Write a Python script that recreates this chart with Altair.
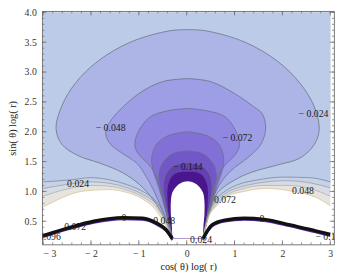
import altair as alt
import pandas as pd

SERIF = "Liberation Serif"

# ---------------- axis ranges / ticks ----------------
X_DOMAIN = [-3.02, 3.08]
Y_DOMAIN = [0.11, 4.02]
FILL_TOP = 4.0

X_MAJOR = [-3, -2, -1, 0, 1, 2, 3]
X_MINOR = [round(-3 + 0.2 * k, 1) for k in range(31)]
Y_MAJOR = [0.5, 1.0, 1.5, 2.0, 2.5, 3.0, 3.5, 4.0]
Y_MINOR = [round(0.2 + 0.1 * k, 1) for k in range(39)]

# ---------------- contour curves ----------------
C024_L = [(0.02, 3.71), (-0.37, 3.69), (-1.18, 3.50), (-1.86, 3.18), (-2.33, 2.81), (-2.61, 2.43),
          (-2.73, 2.05), (-2.61, 1.79), (-2.27, 1.60), (-1.80, 1.47), (-1.33, 1.31), (-0.98, 1.11),
          (-0.71, 0.87), (-0.43, 0.50), (-0.30, 0.21)]
C024_R = [(0.41, 3.69), (1.22, 3.50), (1.90, 3.18), (2.37, 2.81), (2.66, 2.43), (2.77, 2.05),
          (2.67, 1.79), (2.37, 1.56), (1.88, 1.44), (1.35, 1.32), (1.00, 1.19), (0.65, 0.98),
          (0.45, 0.60), (0.34, 0.21)]
C048_L = [(0.02, 2.89), (-0.50, 2.84), (-0.98, 2.65), (-1.45, 2.32), (-1.65, 2.10), (-1.69, 1.95),
          (-1.59, 1.79), (-1.33, 1.63), (-1.04, 1.47), (-0.84, 1.24), (-0.67, 0.98), (-0.47, 0.60),
          (-0.30, 0.21)]
C048_R = [(0.50, 2.84), (1.00, 2.64), (1.40, 2.42), (1.58, 2.30), (1.65, 2.05), (1.55, 1.79),
          (1.27, 1.56), (1.00, 1.40), (0.80, 1.24), (0.63, 1.03), (0.49, 0.71), (0.34, 0.21)]
C072_L = [(0.02, 2.39), (-0.40, 2.35), (-0.78, 2.24), (-1.04, 1.95), (-1.08, 1.75), (-0.98, 1.60),
          (-0.78, 1.44), (-0.63, 1.24), (-0.53, 0.98), (-0.43, 0.66), (-0.30, 0.21)]
C072_R = [(0.43, 2.35), (0.82, 2.24), (1.06, 1.95), (1.10, 1.75), (1.00, 1.60), (0.80, 1.44),
          (0.65, 1.24), (0.55, 0.98), (0.45, 0.66), (0.34, 0.21)]
C096_L = [(0.02, 2.00), (-0.40, 1.93), (-0.63, 1.79), (-0.73, 1.58), (-0.71, 1.38), (-0.62, 1.15),
          (-0.52, 0.90), (-0.41, 0.58), (-0.30, 0.21)]
C096_R = [(0.44, 1.93), (0.67, 1.79), (0.77, 1.58), (0.75, 1.38), (0.66, 1.15), (0.56, 0.90),
          (0.45, 0.58), (0.34, 0.21)]
C120_L = [(0.02, 1.68), (-0.30, 1.63), (-0.50, 1.48), (-0.58, 1.30), (-0.56, 1.10), (-0.49, 0.85),
          (-0.39, 0.55), (-0.30, 0.21)]
C120_R = [(0.34, 1.63), (0.54, 1.48), (0.62, 1.30), (0.60, 1.10), (0.53, 0.85), (0.43, 0.55),
          (0.34, 0.21)]
C144_L = [(0.02, 1.48), (-0.25, 1.44), (-0.43, 1.30), (-0.49, 1.10), (-0.46, 0.85), (-0.38, 0.55),
          (-0.30, 0.21)]
C144_R = [(0.29, 1.44), (0.47, 1.30), (0.53, 1.10), (0.50, 0.85), (0.42, 0.55), (0.34, 0.21)]
C168_L = [(0.02, 1.33), (-0.15, 1.32), (-0.30, 1.26), (-0.39, 1.10), (-0.40, 0.84), (-0.36, 0.50),
          (-0.30, 0.21)]
C168_R = [(0.19, 1.32), (0.34, 1.26), (0.43, 1.10), (0.44, 0.84), (0.40, 0.50), (0.34, 0.21)]
U_L = [(0.02, 1.17), (-0.12, 1.14), (-0.22, 1.08), (-0.30, 0.98), (-0.33, 0.84), (-0.33, 0.60),
       (-0.31, 0.42), (-0.30, 0.21)]
U_R = [(0.16, 1.14), (0.26, 1.08), (0.34, 0.98), (0.37, 0.84), (0.37, 0.60), (0.35, 0.42),
       (0.34, 0.21)]

F1_L = [(-3.0, 1.16), (-2.47, 1.19), (-2.0, 1.23), (-1.65, 1.20), (-1.24, 1.11), (-0.92, 1.00),
        (-0.63, 0.82), (-0.43, 0.55), (-0.30, 0.21)]
F2_L = [(-3.0, 1.05), (-2.47, 1.12), (-2.0, 1.16), (-1.65, 1.14), (-1.24, 1.06), (-0.92, 0.95),
        (-0.63, 0.78), (-0.44, 0.52), (-0.30, 0.21)]
F3_L = [(-3.0, 0.92), (-2.50, 1.04), (-2.0, 1.10), (-1.65, 1.09), (-1.24, 1.02), (-0.92, 0.91),
        (-0.65, 0.75), (-0.45, 0.50), (-0.30, 0.21)]
F4_L = [(-3.0, 0.74), (-2.67, 0.87), (-2.20, 1.00), (-1.65, 1.03), (-1.24, 0.98), (-0.92, 0.87),
        (-0.67, 0.71), (-0.47, 0.47), (-0.30, 0.21)]
F1_R = [(0.34, 0.21), (0.45, 0.60), (0.59, 0.84), (0.80, 1.00), (1.06, 1.11), (1.47, 1.19),
        (2.02, 1.24), (2.57, 1.23), (3.0, 1.16)]
F2_R = [(0.34, 0.21), (0.45, 0.58), (0.60, 0.81), (0.82, 0.97), (1.10, 1.07), (1.50, 1.14),
        (2.05, 1.18), (2.60, 1.14), (3.0, 1.06)]
F3_R = [(0.34, 0.21), (0.45, 0.56), (0.62, 0.78), (0.84, 0.94), (1.15, 1.04), (1.60, 1.10),
        (2.15, 1.10), (2.65, 1.03), (3.0, 0.92)]
F4_R = [(0.34, 0.21), (0.45, 0.55), (0.63, 0.76), (0.86, 0.92), (1.20, 1.00), (1.67, 1.05),
        (2.22, 1.00), (2.70, 0.90), (3.0, 0.76)]

ZERO_L = [(-3.0, 0.26), (-2.47, 0.39), (-1.94, 0.50), (-1.33, 0.56), (-0.92, 0.55), (-0.63, 0.47),
          (-0.43, 0.36), (-0.30, 0.21)]
ZERO_R = [(0.34, 0.21), (0.53, 0.44), (0.80, 0.52), (1.20, 0.55), (1.61, 0.53), (2.16, 0.44),
          (2.69, 0.34), (3.0, 0.28)]

LABEL_TEXT = ["− 0.024", "− 0.048", "− 0.072", "− 0.144", "0.024", "0.048", "0.072", "0", "0",
              "0.072", "0.096", "0.048", "0.024", "− 0.1"]
LABEL_X = [2.65, -1.59, 1.06, 0.02, -2.27, 2.43, 0.80, -1.31, 1.57, -2.33, -2.86, -0.47, 0.30, 2.90]
LABEL_Y = [2.29, 2.06, 1.89, 1.40, 1.12, 1.00, 0.85, 0.55, 0.54, 0.40, 0.24, 0.50, 0.19, 0.24]

COL_BG = "#bccbe8"
COL_FAN = ["#e6e4de", "#d6dbe4", "#c8d2e6"]
DOME_COLS = ["#adb5e7", "#9e9ee6", "#8f87e0", "#8270d6", "#7257c8", "#6440b2", "#4a168e"]
LINE_COL = "#6c7184"
FAN_LINE_COLS = ["#7d8698", "#979ea8", "#b3b2aa", "#dcc49a"]

W, H = 299, 239

xs = alt.Scale(domain=X_DOMAIN, nice=False, zero=False)
ys = alt.Scale(domain=Y_DOMAIN, nice=False, zero=False)
xax = alt.Axis(values=X_MAJOR, ticks=False, domain=False, grid=False,
               labelExpr="datum.value < 0 ? '− ' + format(-datum.value, 'd') : format(datum.value, 'd')",
               labelFont=SERIF, labelFontSize=10, labelColor="#333", labelPadding=4,
               title="cos( θ)  log( r)", titleFont=SERIF, titleFontSize=10.5, titleFontWeight="normal",
               titleColor="#222", titlePadding=4)
yax = alt.Axis(values=Y_MAJOR, ticks=False, domain=False, grid=False, format=".1f",
               labelFont=SERIF, labelFontSize=10, labelColor="#333", labelPadding=6,
               title="sin( θ)  log( r)", titleFont=SERIF, titleFontSize=10.5, titleFontWeight="normal",
               titleColor="#222", titleX=-25)


def X():
    return alt.X("x:Q", scale=xs, axis=xax)


def Y():
    return alt.Y("y:Q", scale=ys, axis=yax)


def frame(pts):
    return pd.DataFrame({"x": [p[0] for p in pts], "y": [p[1] for p in pts],
                         "i": list(range(len(pts))), "top": [FILL_TOP] * len(pts)})


def polygon(pts, color):
    return alt.Chart(frame(pts)).mark_line(filled=True, color=color, clip=True,
                                           interpolate="catmull-rom").encode(
        x=X(), y=Y(), order=alt.Order("i:Q"))


def above(pts, color):
    return alt.Chart(frame(pts)).mark_area(color=color, clip=True, interpolate="monotone").encode(
        x=X(), y=Y(), y2="top:Q")


def curve(pts, color, width, interp="catmull-rom", **kw):
    return alt.Chart(frame(pts)).mark_line(color=color, strokeWidth=width, clip=True,
                                           interpolate=interp, **kw).encode(
        x=X(), y=Y(), order=alt.Order("i:Q"))


layers = []

fan_pairs = [(F4_L, F4_R), (F3_L, F3_R), (F2_L, F2_R), (F1_L, F1_R)]
fan_cols = COL_FAN + [COL_BG]
for (fl, fr), col in zip(fan_pairs, fan_cols):
    layers.append(above(fl + fr, col))

domes = [(C024_L, C024_R), (C048_L, C048_R), (C072_L, C072_R), (C096_L, C096_R),
         (C120_L, C120_R), (C144_L, C144_R), (C168_L, C168_R)]
for (dl, dr), col in zip(domes, DOME_COLS):
    layers.append(polygon(dl[::-1] + dr, col))
layers.append(polygon(U_L[::-1] + U_R, "white"))

for dl, dr in domes[:-1]:
    layers.append(curve(dl[::-1], LINE_COL, 0.8))
    layers.append(curve(dl[:1] + dr, LINE_COL, 0.8))
for (fl, fr), col in zip([(F1_L, F1_R), (F2_L, F2_R), (F3_L, F3_R), (F4_L, F4_R)], FAN_LINE_COLS):
    layers.append(curve(fl, col, 0.8, "monotone"))
    layers.append(curve(fr, col, 0.8, "monotone"))

for z in (ZERO_L, ZERO_R):
    layers.append(curve(z, "#5a2aa8", 2.0, "monotone", yOffset=1.6))
    layers.append(curve(z, "#111111", 3.4, "monotone"))

lab = pd.DataFrame({"x": LABEL_X, "y": LABEL_Y, "t": LABEL_TEXT})
layers.append(alt.Chart(lab).mark_text(font=SERIF, fontSize=10, color="#1a1a1a", clip=True).encode(
    x=X(), y=Y(), text="t:N"))

TICK = "#666666"
xmaj = pd.DataFrame({"x": X_MAJOR})
xmin = pd.DataFrame({"x": X_MINOR})
ymaj = pd.DataFrame({"y": Y_MAJOR})
ymin = pd.DataFrame({"y": Y_MINOR})
for df, ln in ((xmaj, 4.5), (xmin, 2.2)):
    layers.append(alt.Chart(df).mark_rule(color=TICK, strokeWidth=0.7).encode(
        x=X(), y=alt.value(H), y2=alt.value(H - ln)))
    layers.append(alt.Chart(df).mark_rule(color=TICK, strokeWidth=0.7).encode(
        x=X(), y=alt.value(0), y2=alt.value(ln)))
for df, ln in ((ymaj, 4.5), (ymin, 2.2)):
    layers.append(alt.Chart(df).mark_rule(color=TICK, strokeWidth=0.7).encode(
        y=Y(), x=alt.value(0), x2=alt.value(ln)))
    layers.append(alt.Chart(df).mark_rule(color=TICK, strokeWidth=0.7).encode(
        y=Y(), x=alt.value(W), x2=alt.value(W - ln)))

chart = alt.layer(*layers).properties(
    width=W, height=H,
    autosize=alt.AutoSizeParams(type="none"),
    padding={"left": 35, "top": 0, "right": 4, "bottom": 30},
).configure_view(stroke="#555555", strokeWidth=0.8)

chart.save("out.html", embed_options={"renderer": "svg", "actions": False})
